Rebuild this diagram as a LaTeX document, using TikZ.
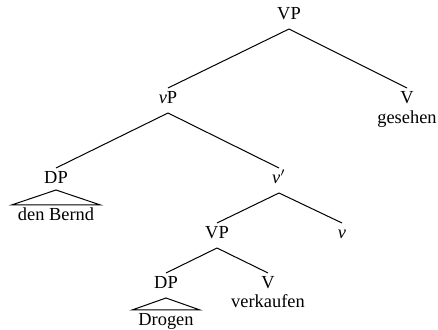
\documentclass[tikz,border=0pt]{standalone}
\usepackage{fontspec}
\setmainfont{Liberation Serif}
\newfontfamily\tfont{Liberation Serif}
\begin{document}
\begin{tikzpicture}[x=0.5pt,y=-0.5pt,
  lab/.style={anchor=base,inner sep=0pt,font=\tfont\fontsize{9.2}{11}\selectfont},
  word/.style={anchor=base,inner ysep=0pt,inner xsep=3pt,font=\tfont\fontsize{9.2}{11}\selectfont},
  br/.style={line width=0.5pt}]
\useasboundingbox (0,0) rectangle (438,330);
\node[lab] (vp1) at (289,20) {VP};
\node[lab] (vp2) at (168,104) {\textit{v}P};
\node[lab] (v1) at (407,104) {V};
\node[lab] (ges) at (407,124) {gesehen};
\node[lab] (dp1) at (56,184) {DP};
\node[word] (bernd) at (56,221) {den Bernd};
\node[lab] (vbar) at (279,184) {\textit{v}$'$};
\node[lab] (vp3) at (217,239) {VP};
\node[lab] (vsm) at (342,239) {\textit{v}};
\node[lab] (dp2) at (166,289) {DP};
\node[word] (drog) at (166,326) {Drogen};
\node[lab] (v2) at (268,289) {V};
\node[lab] (verk) at (268,308) {verkaufen};
\foreach \p/\c in {vp1/vp2,vp1/v1,vp2/dp1,vp2/vbar,vbar/vp3,vbar/vsm,vp3/dp2,vp3/v2}
  \draw[br] ([yshift=-4.5pt]\p.base) -- ([yshift=8pt]\c.base);
\draw[br] ([yshift=-3pt]dp1.base) -- ([yshift=8pt]bernd.base east) -- ([yshift=8pt]bernd.base west) -- cycle;
\draw[br] ([yshift=-4.5pt]dp2.base) -- ([yshift=8pt]drog.base east) -- ([yshift=8pt]drog.base west) -- cycle;
\end{tikzpicture}
\end{document}
